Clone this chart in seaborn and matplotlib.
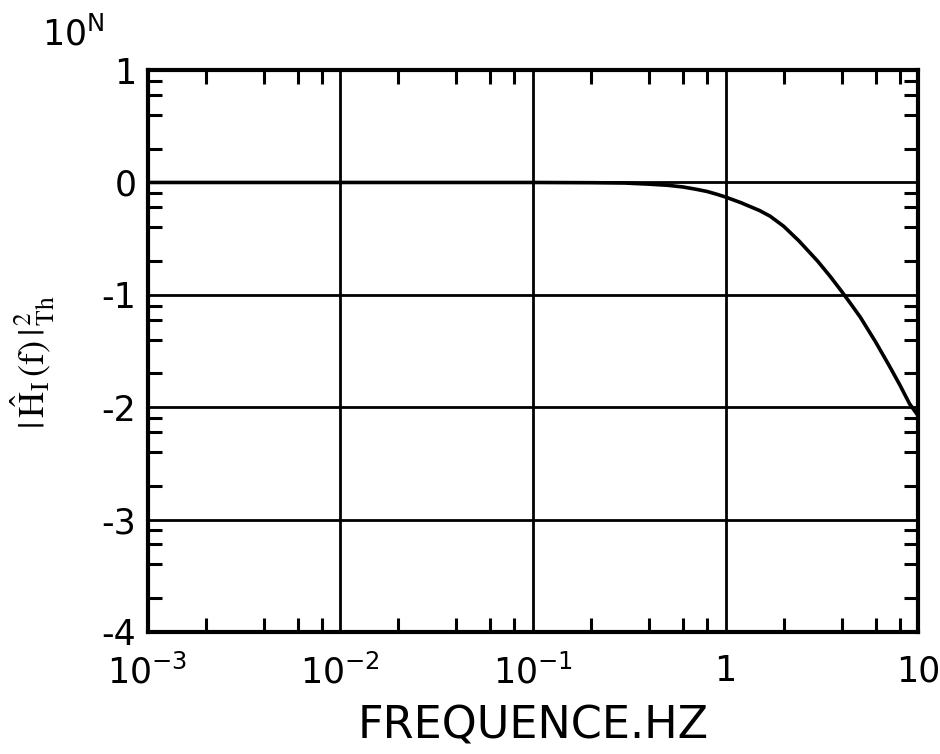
import numpy as np
import pandas as pd
import seaborn as sns
import matplotlib
matplotlib.use("Agg")
import matplotlib.pyplot as plt
from matplotlib.ticker import FixedLocator, NullFormatter

# valeurs (exposant N de 10^N)
frequence = [0.001, 0.01, 0.1, 0.2, 0.3, 0.4, 0.5, 0.6, 0.7, 0.8, 0.9, 1.0, 1.2, 1.5, 1.7,
             2.0, 2.4, 3.0, 3.5, 4.0, 4.5, 5.0, 6.0, 7.0, 8.0, 9.0, 10.0]
exposant = [0.0, 0.0, 0.0, -0.002, -0.005, -0.015, -0.025, -0.04, -0.06, -0.08, -0.105, -0.13,
            -0.18, -0.25, -0.30, -0.39, -0.52, -0.70, -0.84, -0.97, -1.09, -1.20, -1.42,
            -1.62, -1.80, -1.97, -2.08]

x_ticks = [1e-3, 1e-2, 1e-1, 1, 10]
x_labels = [r"$10^{-3}$", r"$10^{-2}$", r"$10^{-1}$", "1", "10"]
y_ticks = [10.0, 1.0, 1e-1, 1e-2, 1e-3, 1e-4]
y_labels = ["1", "0", "-1", "-2", "-3", "-4"]

tabela = pd.DataFrame({"f": frequence, "H2": [10 ** n for n in exposant]})

sns.set_theme(style="ticks")
plt.rcParams["font.family"] = ["DejaVu Sans"]
plt.rcParams["mathtext.fontset"] = "dejavusans"
plt.rcParams["text.color"] = "black"
plt.rcParams["xtick.labelcolor"] = "black"
plt.rcParams["ytick.labelcolor"] = "black"
plt.rcParams["axes.labelcolor"] = "black"

fig = plt.figure(figsize=(9.4, 7.54), dpi=100)
ax = fig.add_axes([0.157, 0.162, 0.82, 0.745])

sns.lineplot(data=tabela, x="f", y="H2", ax=ax, color="black", linewidth=2.6)

ax.set_xscale("log")
ax.set_yscale("log")
ax.set_xlim(1e-3, 10)
ax.set_ylim(1e-4, 10)

# grille aux decades
for xv in [1e-2, 1e-1, 1]:
    ax.axvline(xv, color="black", linewidth=2.0, zorder=1)
for yv in [1.0, 1e-1, 1e-2, 1e-3]:
    ax.axhline(yv, color="black", linewidth=2.0, zorder=1)

ax.xaxis.set_major_locator(FixedLocator(x_ticks))
ax.set_xticklabels(x_labels)
ax.yaxis.set_major_locator(FixedLocator(y_ticks))
ax.set_yticklabels(y_labels)

x_minor = [m * 10.0 ** d for d in range(-3, 1) for m in (2, 4, 6, 8)]
y_minor = [m * 10.0 ** d for d in range(-4, 1) for m in (2, 4, 6, 8)]
ax.xaxis.set_minor_locator(FixedLocator(x_minor))
ax.yaxis.set_minor_locator(FixedLocator(y_minor))
ax.xaxis.set_minor_formatter(NullFormatter())
ax.yaxis.set_minor_formatter(NullFormatter())

ax.tick_params(which="both", direction="in", top=True, right=True, color="black")
ax.tick_params(which="major", length=0, labelsize=25, pad=8)
ax.tick_params(which="minor", length=10, width=2.2)
ax.tick_params(axis="x", which="major", pad=16)

for s in ax.spines.values():
    s.set_linewidth(3)
    s.set_color("black")

ax.set_xlabel("FREQUENCE.HZ", fontsize=32, labelpad=10)
ax.set_ylabel(r"$|\,\hat{\mathrm{H}}_{\mathrm{I}}\,(\mathrm{f})\,|^{\,2}_{\,\mathrm{Th}}$",
              fontsize=26, math_fontfamily="stix")
ax.yaxis.set_label_coords(-0.118, 0.48)

fig.text(0.045, 0.94, r"10$^{\mathrm{N}}$", fontsize=25)

fig.savefig("out.png", dpi=100, facecolor="white")
